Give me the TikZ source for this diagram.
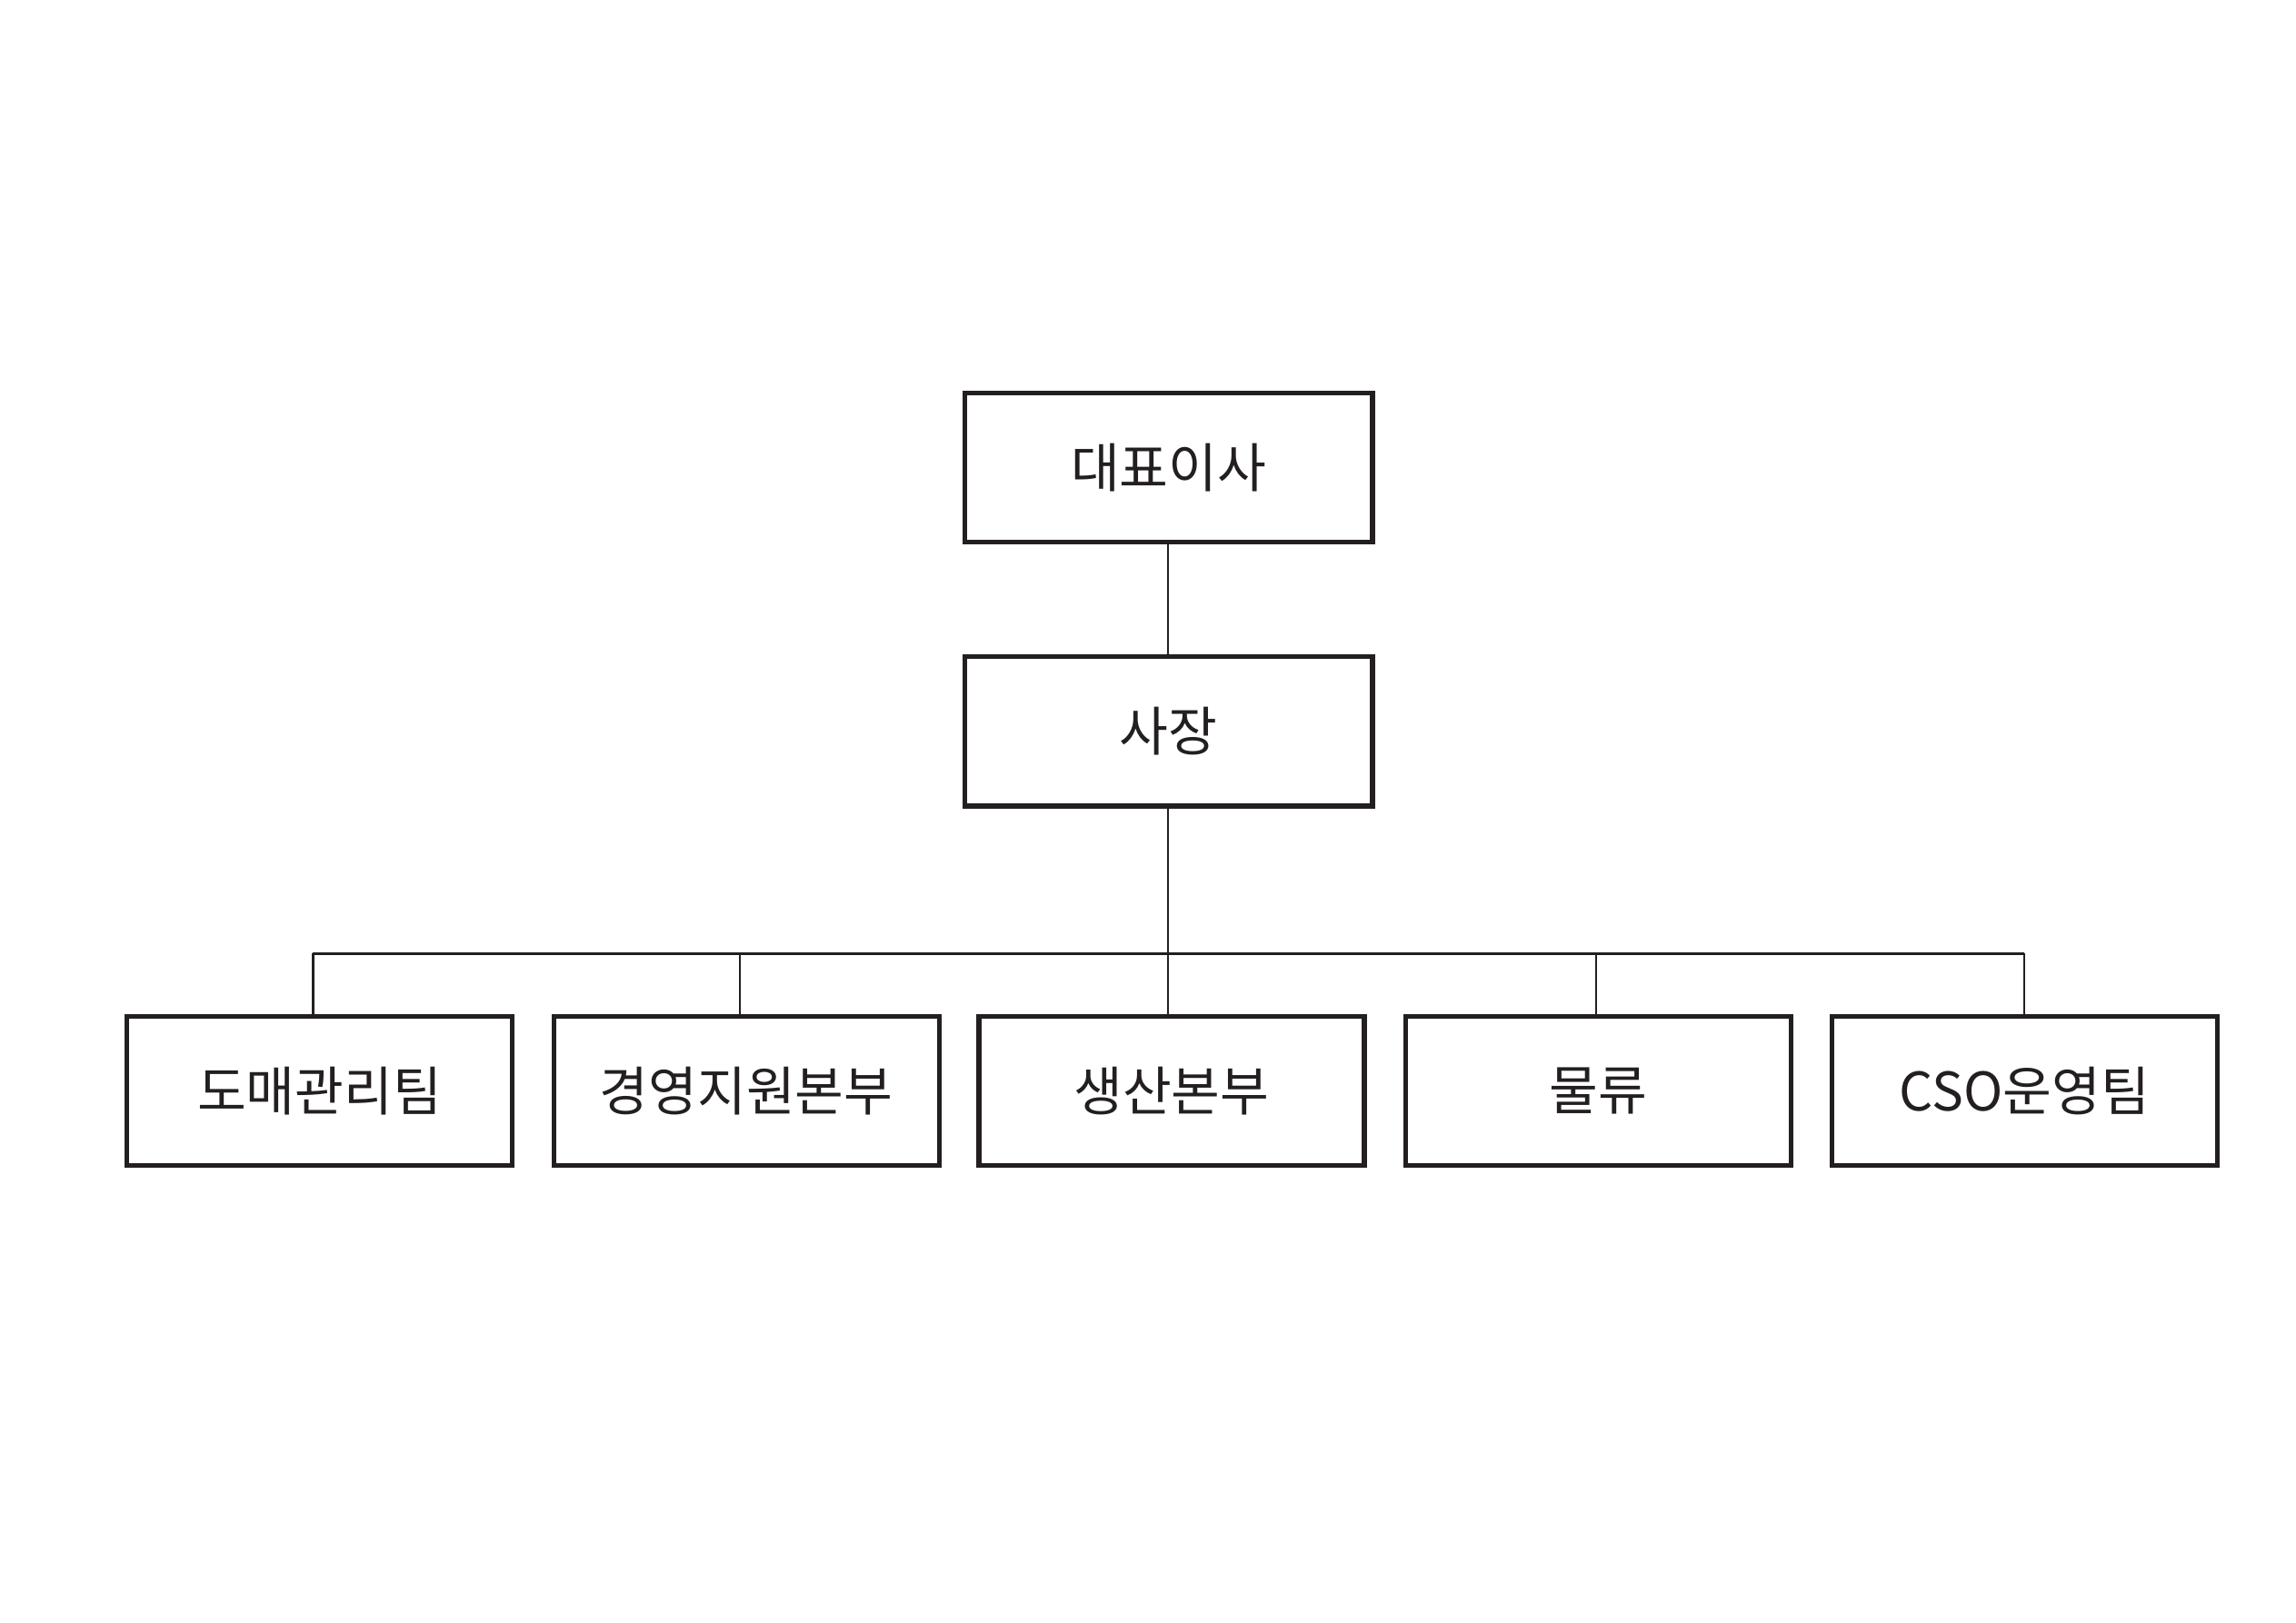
\documentclass[tikz,border=0pt]{standalone}
\usepackage{fontspec}
\setmainfont{Noto Sans CJK KR}
\begin{document}
\begin{tikzpicture}[x=0.5pt,y=-0.5pt,
  box/.style={draw=ink,line width=1.6pt,minimum width=138pt,minimum height=50.5pt,inner sep=0pt,font=\fontsize{18}{20}\selectfont,text=ink},
  conn/.style={draw=ink,line width=0.7pt}]
\definecolor{ink}{HTML}{231F20}
\useasboundingbox (0,0) rectangle (1555,1099);
\node[box] (ceo) at (791.5,316.5) {대표이사};
\node[box] (pres) at (791.5,495.5) {사장};
\node[box,minimum width=130.5pt] (a) at (216.5,739) {도매관리팀};
\node[box,minimum width=130.5pt] (b) at (505.5,739) {경영지원본부};
\node[box,minimum width=130.5pt] (c) at (793.5,739) {생산본부};
\node[box,minimum width=130.5pt] (d) at (1082.5,739) {물류};
\node[box,minimum width=130.5pt] (e) at (1371,739) {CSO운영팀};
\coordinate (bus) at (791,646);
\draw[conn] (ceo.south -| bus) -- (pres.north -| bus);
\draw[conn] (pres.south -| bus) -- (bus);
\draw[conn] (212,646) -- (1371,646);
\foreach \n/\x in {a/212,b/501,c/791,d/1081,e/1371}
  \draw[conn] (\x,646) -- (\n.north -| \x,0);
\end{tikzpicture}
\end{document}
